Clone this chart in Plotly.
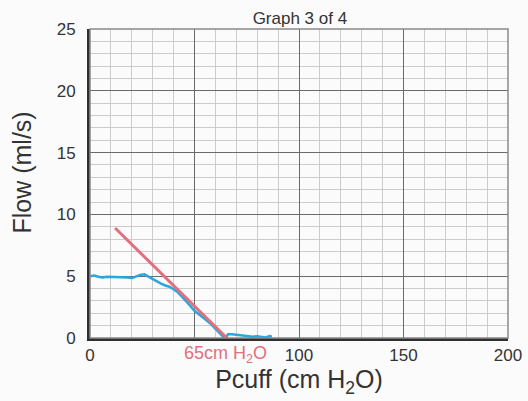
import plotly.graph_objects as go

# Data
flow_x = [0, 2, 4, 6, 8, 10, 12, 14, 16, 18, 20, 22, 24, 26, 28, 30, 32, 34, 36, 38,
          40, 42, 44, 46, 48, 50, 52, 54, 56, 58, 60, 62, 64, 65, 66, 68, 70, 72, 74,
          76, 78, 80, 82, 84, 86, 87]
flow_y = [5.0, 5.05, 4.95, 4.9, 4.95, 4.95, 4.9, 4.95, 4.95, 4.9, 4.85, 5.0, 5.1, 5.15,
          4.95, 4.75, 4.6, 4.4, 4.25, 4.15, 3.95, 3.7, 3.35, 3.0, 2.6, 2.2, 1.95, 1.7,
          1.4, 1.1, 0.75, 0.4, 0.05, 0.0, 0.3, 0.3, 0.25, 0.25, 0.2, 0.15, 0.1, 0.15,
          0.1, 0.05, 0.15, 0.1]
fit_x = [12, 65.5]
fit_y = [8.9, 0]

x_tickvals = [0, 50, 100, 150, 200]
x_ticktext = ["0", "", "100", "150", "200"]
y_tickvals = [0, 5, 10, 15, 20, 25]

title_text = "Graph 3 of 4"
x_title = "Pcuff (cm H<sub>2</sub>O)"
y_title = "Flow (ml/s)"
annot_text = "65cm H<sub>2</sub>O"
annot_x = 65

fig = go.Figure()
fig.add_trace(go.Scatter(x=flow_x, y=flow_y, mode="lines",
                         line=dict(color="#2ba6dc", width=2.5), showlegend=False))
fig.add_trace(go.Scatter(x=fit_x, y=fit_y, mode="lines",
                         line=dict(color="#e36f7e", width=3), showlegend=False))

font_family = "Liberation Sans, Arial, sans-serif"

fig.update_layout(
    width=528, height=401,
    margin=dict(l=90, r=20, t=29, b=63, autoexpand=False),
    paper_bgcolor="#fbfbfb", plot_bgcolor="#fbfbfb",
    font=dict(family=font_family, color="#333333"),
    title=dict(text=title_text, x=0.568, xanchor="center", y=0.955, yanchor="middle",
               font=dict(size=17, color="#333333")),
    xaxis=dict(range=[0, 200], tickvals=x_tickvals, ticktext=x_ticktext,
               showgrid=True, gridcolor="#6a6a6a", gridwidth=1,
               minor=dict(dtick=10, showgrid=True, gridcolor="#cccccc", gridwidth=1),
               showline=True, linecolor="#2f2f2f", linewidth=3,
               ticks="", tickfont=dict(size=17, color="#333333"),
               ticklabeloverflow="allow", automargin=False,
               title=dict(text=x_title, font=dict(size=25, color="#333333"), standoff=6),
               zeroline=False, fixedrange=True),
    yaxis=dict(range=[0, 25], tickvals=y_tickvals,
               showgrid=True, gridcolor="#6a6a6a", gridwidth=1,
               minor=dict(dtick=1, showgrid=True, gridcolor="#cccccc", gridwidth=1),
               showline=True, linecolor="#2f2f2f", linewidth=3,
               ticks="", ticklabelstandoff=8, tickfont=dict(size=17, color="#333333"),
               ticklabeloverflow="allow", automargin=False,
               zeroline=False, fixedrange=True),
)

fig.add_shape(type="rect", xref="paper", yref="paper", x0=0, x1=1, y0=0, y1=1,
              line=dict(color="#8a8a8a", width=1.5), layer="above")

fig.add_annotation(x=-0.163, y=0.535, xref="paper", yref="paper", text=y_title,
                   showarrow=False, textangle=-90, xanchor="center", yanchor="middle",
                   font=dict(size=25, color="#333333", family=font_family))

fig.add_annotation(x=annot_x, y=0, xref="x", yref="y", text=annot_text,
                   showarrow=False, yanchor="top", yshift=-3,
                   font=dict(size=18, color="#e36f7e", family=font_family))

fig.write_html("out.html")
